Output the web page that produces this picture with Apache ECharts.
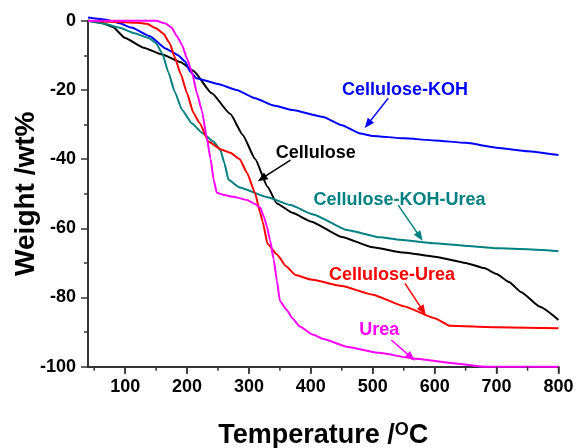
<!DOCTYPE html>
<html>
<head>
<meta charset="utf-8">
<script src="https://cdn.jsdelivr.net/npm/echarts@6/dist/echarts.min.js"></script>
<style>
  html, body { margin: 0; padding: 0; background: #fff; }
  #main { width: 577px; height: 448px; }
</style>
</head>
<body>
<div id="main"></div>
<script>
// TGA curves, [temperature, weight loss %]
let cellulose = [[40,0],[60,-0.5],[80,-1.8],[100,-5],[130,-7.8],[160,-9.8],[190,-12],[210,-14.5],[240,-21],[270,-27],[290,-33],[310,-40],[330,-48],[345,-52.8],[370,-55.5],[400,-58],[450,-62.5],[500,-65.5],[550,-67],[600,-68.2],[650,-70],[680,-71.5],[700,-73.2],[720,-75.5],[740,-78.5],[770,-82.7],[800,-86.5]]
let cellulose_koh = [[40,0.9],[70,0.3],[90,-0.7],[110,-2],[140,-4.5],[165,-8],[185,-9.9],[197,-11.8],[205,-14.7],[215,-16.6],[250,-18.3],[280,-20],[310,-22.4],[340,-24.5],[370,-25.8],[420,-27.8],[450,-30.2],[480,-32.6],[500,-33.3],[550,-34],[600,-34.6],[650,-35.3],[700,-36.7],[750,-37.7],[800,-38.8]]
let cellulose_urea = [[40,0],[80,-0.3],[120,-0.6],[135,-0.9],[150,-2.2],[162,-3.8],[172,-6.5],[180,-10.5],[190,-15.5],[200,-21],[210,-26.5],[220,-29.5],[235,-35],[255,-37.2],[270,-38.2],[285,-40],[297,-44],[310,-49.9],[318,-55.5],[322,-58],[330,-64.5],[345,-67.5],[360,-71],[375,-73.5],[400,-74.8],[450,-76.7],[500,-79.2],[550,-82.5],[600,-86],[625,-88.2],[700,-88.6],[800,-88.9]]
let urea = [[40,-0.1],[100,0],[150,0],[165,-0.8],[175,-2],[184,-4.6],[192,-7],[200,-11],[208,-15],[216,-21],[224,-26],[232,-34],[238,-40],[243,-46],[248,-49.7],[260,-50.4],[275,-50.9],[297,-51.8],[310,-53],[318,-54],[324,-56.6],[329,-59.5],[334,-63.4],[340,-69],[345,-75],[350,-81],[361,-83.6],[370,-86],[382,-88.4],[404,-90.8],[420,-92],[460,-94.3],[510,-96],[565,-97.6],[630,-99],[680,-100],[800,-100]]
let cellulose_koh_urea = [[40,0],[65,-0.8],[90,-2],[115,-3.6],[138,-5],[150,-6.5],[160,-9.5],[170,-15],[180,-20.5],[192,-25.8],[208,-29.7],[225,-32.5],[243,-35],[254,-37.4],[260,-41],[267,-46],[285,-48.2],[330,-51],[367,-53.3],[404,-56],[458,-60.5],[512,-62.6],[544,-63.3],[598,-64.3],[652,-65.1],[706,-65.8],[800,-66.6]]

let x_major = [100,200,300,400,500,600,700,800]
let x_minor = [50,150,250,350,450,550,650,750]

// label text position, arrow start, arrow tip (data units)
let note_cellulose = ['Cellulose', [408,-38.3], [367,-40.3], [321,-45.6]]
let note_koh = ['Cellulose-KOH', [552,-20], [525,-22.4], [492,-29.9]]
let note_koh_urea = ['Cellulose-KOH-Urea', [543,-51.8], [541,-53.3], [576,-62.4]]
let note_urea_mix = ['Cellulose-Urea', [531,-73.5], [552,-75.9], [581,-83.8]]
let note_urea = ['Urea', [510.6,-89.4], [530,-92.3], [562,-97.3]]

const FONT = '"Liberation Sans", Arial, sans-serif'
const AXIS_COLOR = '#333'
const Y_MIN = -100

function make_series(name, data, color, note) {
    return {
        name: name,
        type: 'line',
        data: data,
        color: color,
        showSymbol: false,
        smooth: 0.15,
        smoothMonotone: 'x',
        clip: false,
        lineStyle: { width: 2, color: color },
        markPoint: {
            silent: true,
            symbol: 'circle',
            symbolSize: 0,
            data: [{ coord: note[1], value: note[0] }],
            label: {
                show: true,
                position: 'inside',
                formatter: note[0],
                color: color,
                fontFamily: FONT,
                fontWeight: 'bold',
                fontSize: 18
            }
        },
        markLine: {
            silent: true,
            symbol: ['none', 'triangle'],
            symbolSize: [8, 10],
            label: { show: false },
            lineStyle: { color: color, width: 1.5, type: 'solid' },
            data: [[{ coord: note[2] }, { coord: note[3] }]]
        }
    }
}

// x axis ticks (major + minor) drawn under the axis line through the x scale
let x_tick_series = {
    name: 'x_ticks',
    type: 'custom',
    silent: true,
    clip: false,
    z: 5,
    data: x_major.concat(x_minor).map(v => [v, Y_MIN]),
    renderItem: function (params, api) {
        let v = api.value(0)
        let pt = api.coord([v, Y_MIN])
        let len = x_major.indexOf(v) >= 0 ? 7 : 4
        return {
            type: 'line',
            shape: { x1: pt[0], y1: pt[1], x2: pt[0], y2: pt[1] + len },
            style: { stroke: AXIS_COLOR, lineWidth: 1.5 }
        }
    }
}

let chart = echarts.init(document.getElementById('main'))
let option = {
    backgroundColor: '#fff',
    animation: false,
    grid: { left: 88, right: 18.5, top: 20.7, bottom: 81.3, outerBoundsMode: 'none', containLabel: false },
    xAxis: {
        type: 'value',
        min: 40,
        max: 800,
        name: 'Temperature /{sup|O}C',
        nameLocation: 'middle',
        nameGap: 54,
        nameMoveOverlap: false,
        nameTextStyle: {
            fontFamily: FONT, fontWeight: 'bold', fontSize: 27, color: '#000',
            rich: { sup: { fontFamily: FONT, fontWeight: 'bold', fontSize: 18, verticalAlign: 'top', padding: [0, 0, 12, 0] } }
        },
        splitLine: { show: false },
        axisLine: { show: true, onZero: false, lineStyle: { color: AXIS_COLOR, width: 2 } },
        axisTick: { show: true, inside: false, length: 7, lineStyle: { color: AXIS_COLOR, width: 1.5 }, customValues: x_major },
        axisLabel: { color: '#000', fontFamily: FONT, fontWeight: 'bold', fontSize: 18, margin: 11, customValues: x_major }
    },
    yAxis: {
        type: 'value',
        min: Y_MIN,
        max: 0,
        interval: 20,
        name: 'Weight /wt%',
        nameLocation: 'middle',
        nameGap: 48,
        nameMoveOverlap: false,
        nameTextStyle: { fontFamily: FONT, fontWeight: 'bold', fontSize: 28, color: '#000' },
        splitLine: { show: false },
        axisLine: { show: true, onZero: false, lineStyle: { color: AXIS_COLOR, width: 2 } },
        axisTick: { show: true, length: 7, lineStyle: { color: AXIS_COLOR, width: 1.5 } },
        minorTick: { show: true, splitNumber: 2, length: 4, lineStyle: { color: AXIS_COLOR, width: 1.5 } },
        axisLabel: { color: '#000', fontFamily: FONT, fontWeight: 'bold', fontSize: 18, margin: 12 }
    },
    series: [
        x_tick_series,
        make_series('Cellulose', cellulose, '#000000', note_cellulose),
        make_series('Cellulose-KOH', cellulose_koh, '#0000ff', note_koh),
        make_series('Cellulose-KOH-Urea', cellulose_koh_urea, '#008080', note_koh_urea),
        make_series('Cellulose-Urea', cellulose_urea, '#ff0000', note_urea_mix),
        make_series('Urea', urea, '#ff00ff', note_urea)
    ]
}
chart.setOption(option)
</script>
</body>
</html>
